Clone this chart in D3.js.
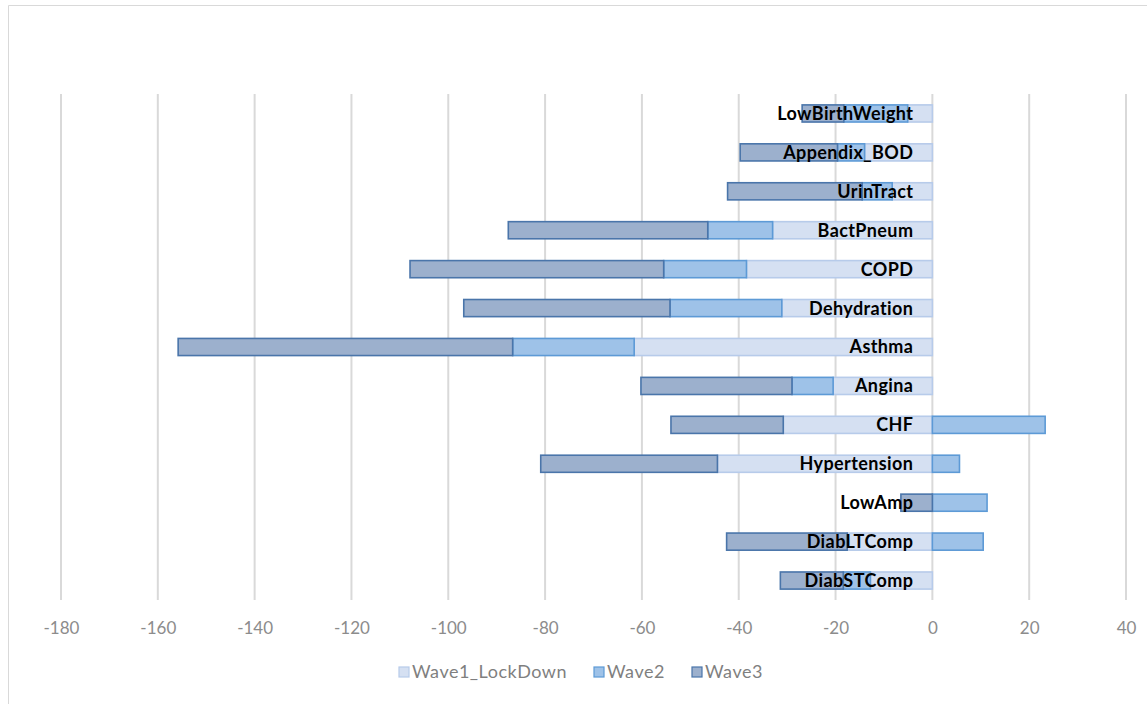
<!DOCTYPE html>
<html>
<head>
<meta charset="utf-8">
<script src="https://cdn.jsdelivr.net/npm/d3@7"></script>
<style>
  html, body { margin: 0; padding: 0; background: #fff; }
  svg { display: block; }
</style>
</head>
<body>
<svg id="chart" width="1147" height="704"></svg>
<script>
// Categories, listed top to bottom
const categories = ["LowBirthWeight", "Appendix_BOD", "UrinTract", "BactPneum", "COPD", "Dehydration",
  "Asthma", "Angina", "CHF", "Hypertension", "LowAmp", "DiabLTComp", "DiabSTComp"];

// Change per wave (stacked)
const wave1 = [-5.1, -14.0, -8.3, -33.0, -38.4, -31.1, -61.6, -20.5, -30.8, -44.4, 0, -17.6, -12.8];
const wave2 = [-13.2, -5.6, -6.2, -13.4, -17.1, -23.1, -25.1, -8.5, 23.3, 5.6, 11.3, 10.5, -5.6];
const wave3 = [-8.6, -20.1, -27.8, -41.2, -52.4, -42.6, -69.1, -31.2, -23.2, -36.5, -6.5, -24.9, -13.0];

const seriesNames = ["Wave1_LockDown", "Wave2", "Wave3"];
const tickValues = [-180, -160, -140, -120, -100, -80, -60, -40, -20, 0, 20, 40];

const fills = ["#d5e0f2", "#9ec2e8", "#9cb0cd"];
const strokes = ["#b7cbea", "#5d9ad6", "#4a75aa"];

const rows = categories.map((c, i) => ({
  category: c,
  Wave1_LockDown: wave1[i],
  Wave2: wave2[i],
  Wave3: wave3[i]
}));

const svg = d3.select("#chart");

// Chart frame
svg.append("path")
  .attr("d", "M8.5,704 V5.5 H1147")
  .attr("fill", "none")
  .attr("stroke", "#d9d9d9")
  .attr("stroke-width", 1);

const x = d3.scaleLinear().domain([-180, 40]).range([61, 1126]);
const y = d3.scaleBand().domain(categories).range([94, 600]).paddingInner(0.56).paddingOuter(0.28);

// Vertical gridlines
svg.append("g")
  .selectAll("line")
  .data(tickValues)
  .join("line")
  .attr("x1", d => x(d)).attr("x2", d => x(d))
  .attr("y1", 94).attr("y2", 600)
  .attr("stroke", "#d9d9d9")
  .attr("stroke-width", 2);

// Stacked bars, negatives and positives stacked apart
const stacked = d3.stack().keys(seriesNames).offset(d3.stackOffsetDiverging)(rows);

svg.append("g")
  .selectAll("g")
  .data(stacked)
  .join("g")
  .attr("fill", (d, i) => fills[i])
  .attr("stroke", (d, i) => strokes[i])
  .attr("stroke-width", 1.6)
  .selectAll("rect")
  .data(d => d.filter(s => s[1] - s[0] !== 0))
  .join("rect")
  .attr("x", d => x(Math.min(d[0], d[1])))
  .attr("width", d => Math.abs(x(d[1]) - x(d[0])))
  .attr("y", d => y(d.data.category))
  .attr("height", y.bandwidth());

// Category labels, placed just left of zero
svg.append("g")
  .selectAll("text")
  .data(categories)
  .join("text")
  .attr("x", x(0) - 19)
  .attr("y", d => y(d) + y.bandwidth() / 2)
  .attr("dy", "0.36em")
  .attr("text-anchor", "end")
  .attr("font-family", "Lato, 'Open Sans', sans-serif")
  .attr("font-weight", "bold")
  .attr("font-size", "18px")
  .attr("letter-spacing", "0.4px")
  .attr("fill", "#000")
  .text(d => d);

// X axis
const axis = svg.append("g")
  .attr("transform", "translate(0,617)")
  .call(d3.axisBottom(x).tickValues(tickValues).tickSize(0).tickPadding(5).tickFormat(d => String(d)));
axis.select(".domain").remove();
axis.selectAll("text")
  .attr("font-family", "Lato, 'Open Sans', sans-serif")
  .attr("font-size", "17px")
  .attr("fill", "#8c8c8c");

// Legend
const legendX = [399, 594, 692];
const legend = svg.append("g")
  .selectAll("g")
  .data(seriesNames)
  .join("g")
  .attr("transform", (d, i) => `translate(${legendX[i]},667)`);
legend.append("rect")
  .attr("width", 10).attr("height", 10)
  .attr("fill", (d, i) => fills[i])
  .attr("stroke", (d, i) => strokes[i])
  .attr("stroke-width", 1.2);
legend.append("text")
  .attr("x", 13).attr("y", 5)
  .attr("dy", "0.36em")
  .attr("font-family", "Lato, 'Open Sans', sans-serif")
  .attr("font-size", "18px")
  .attr("letter-spacing", "0.5px")
  .attr("fill", "#7f7f7f")
  .text(d => d);
</script>
</body>
</html>
